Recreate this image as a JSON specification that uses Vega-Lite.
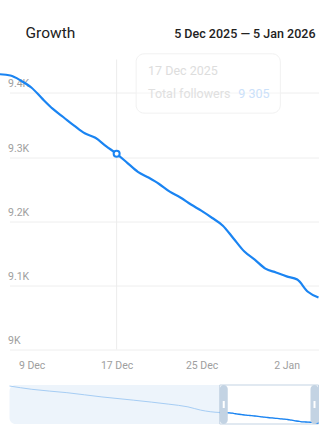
{
  "$schema": "https://vega.github.io/schema/vega-lite/v6.json",
  "background": "white",
  "padding": {"left": -5.5, "top": 25.5, "right": 0, "bottom": 0},
  "config": {"view": {"stroke": null}, "font": "Roboto", "axis": {"labelFont": "Roboto"}},
  "title": {"text": "Growth", "anchor": "start", "frame": "group", "font": "Roboto", "fontSize": 15.5, "fontWeight": 400, "color": "#212121", "dx": 16, "offset": -24.7, "baseline": "alphabetic"},
  "datasets": {
    "followers": [
      {"date": "2025-09-30T00:00:00", "value": 10300},
      {"date": "2025-10-07T00:00:00", "value": 10192},
      {"date": "2025-10-18T00:00:00", "value": 10082},
      {"date": "2025-10-29T00:00:00", "value": 9942},
      {"date": "2025-11-08T00:00:00", "value": 9835},
      {"date": "2025-11-19T00:00:00", "value": 9705},
      {"date": "2025-11-25T00:00:00", "value": 9617},
      {"date": "2025-11-29T00:00:00", "value": 9510},
      {"date": "2025-12-05T00:00:00", "value": 9432},
      {"date": "2025-12-06T00:00:00", "value": 9429},
      {"date": "2025-12-07T00:00:00", "value": 9427},
      {"date": "2025-12-08T00:00:00", "value": 9419},
      {"date": "2025-12-09T00:00:00", "value": 9408},
      {"date": "2025-12-10T00:00:00", "value": 9391},
      {"date": "2025-12-11T00:00:00", "value": 9375},
      {"date": "2025-12-12T00:00:00", "value": 9362},
      {"date": "2025-12-13T00:00:00", "value": 9349},
      {"date": "2025-12-14T00:00:00", "value": 9337},
      {"date": "2025-12-15T00:00:00", "value": 9330},
      {"date": "2025-12-16T00:00:00", "value": 9317},
      {"date": "2025-12-17T00:00:00", "value": 9305},
      {"date": "2025-12-18T00:00:00", "value": 9291},
      {"date": "2025-12-19T00:00:00", "value": 9277},
      {"date": "2025-12-20T00:00:00", "value": 9268},
      {"date": "2025-12-21T00:00:00", "value": 9258},
      {"date": "2025-12-22T00:00:00", "value": 9246},
      {"date": "2025-12-23T00:00:00", "value": 9237},
      {"date": "2025-12-24T00:00:00", "value": 9226},
      {"date": "2025-12-25T00:00:00", "value": 9216},
      {"date": "2025-12-26T00:00:00", "value": 9205},
      {"date": "2025-12-27T00:00:00", "value": 9193},
      {"date": "2025-12-28T00:00:00", "value": 9173},
      {"date": "2025-12-29T00:00:00", "value": 9153},
      {"date": "2025-12-30T00:00:00", "value": 9140},
      {"date": "2025-12-31T00:00:00", "value": 9126},
      {"date": "2026-01-01T00:00:00", "value": 9120},
      {"date": "2026-01-02T00:00:00", "value": 9114},
      {"date": "2026-01-03T00:00:00", "value": 9109},
      {"date": "2026-01-04T00:00:00", "value": 9090},
      {"date": "2026-01-05T00:00:00", "value": 9081}
    ],
    "tip": [
      {"date": "2025-12-17T00:00:00", "value": 9305, "day": "17 Dec 2025", "metric": "Total followers", "shown": "9 305"}
    ]
  },
  "spacing": 13.5,
  "vconcat": [
    {
      "width": 309,
      "height": 290,
      "title": {"text": "5 Dec 2025 — 5 Jan 2026", "anchor": "end", "frame": "group", "font": "Roboto", "fontSize": 12.5, "fontWeight": 500, "color": "#222222", "dx": -3, "offset": 2.5, "baseline": "alphabetic"},
      "encoding": {
        "x": {
          "field": "date", "type": "temporal",
          "scale": {"domain": [{"year": 2025, "month": "Dec", "date": 6, "hours": 22}, {"year": 2026, "month": "Jan", "date": 5}]},
          "axis": {
            "values": [{"year": 2025, "month": "Dec", "date": 9}, {"year": 2025, "month": "Dec", "date": 17}, {"year": 2025, "month": "Dec", "date": 25}, {"year": 2026, "month": "Jan", "date": 2}],
            "format": "%-d %b", "labelColor": "#9e9e9e", "labelFontSize": 10.5, "labelPadding": 10.5,
            "domain": false, "ticks": false, "grid": false, "title": null, "labelFlush": false
          }
        }
      },
      "layer": [
        {
          "data": {"name": "tip"},
          "mark": {"type": "rule", "color": "#ececec", "strokeWidth": 1},
          "encoding": {}
        },
        {
          "data": {"name": "followers"},
          "transform": [{"filter": {"field": "date", "gte": {"year": 2025, "month": "Dec", "date": 6}}}],
          "mark": {"type": "line", "color": "#1a84f2", "strokeWidth": 2.2, "interpolate": "monotone", "clip": false},
          "encoding": {
            "y": {
              "field": "value", "type": "quantitative",
              "scale": {"domain": [9000, 9452], "nice": false, "zero": false},
              "axis": {
                "values": [9000, 9100, 9200, 9300, 9400],
                "labelExpr": "datum.value / 1000 + 'K'",
                "grid": true, "gridColor": "#eeeeee", "gridWidth": 1,
                "domain": false, "ticks": false, "tickSize": 0,
                "labelAlign": "left", "labelBaseline": "alphabetic", "labelPadding": 2, "labelOffset": -6,
                "labelColor": "#9e9e9e", "labelFontSize": 10.5, "title": null
              }
            }
          }
        },
        {
          "data": {"name": "tip"},
          "mark": {"type": "rect", "fill": "white", "fillOpacity": 0.4, "stroke": "#f1f1f1", "strokeWidth": 1, "cornerRadius": 8, "xOffset": 19.5, "x2Offset": 163.7, "yOffset": -100, "y2Offset": -40.7, "clip": false},
          "encoding": {
            "x2": {"field": "date"},
            "y": {"field": "value", "type": "quantitative"},
            "y2": {"field": "value"}
          }
        },
        {
          "data": {"name": "tip"},
          "mark": {"type": "text", "align": "left", "baseline": "alphabetic", "dx": 31.4, "dy": -79, "font": "Roboto", "fontSize": 12.5, "color": "#dddddd"},
          "encoding": {"y": {"field": "value", "type": "quantitative"}, "text": {"field": "day"}}
        },
        {
          "data": {"name": "tip"},
          "mark": {"type": "text", "align": "left", "baseline": "alphabetic", "dx": 31.4, "dy": -55.5, "font": "Roboto", "fontSize": 12.5, "color": "#e0e0e0"},
          "encoding": {"y": {"field": "value", "type": "quantitative"}, "text": {"field": "metric"}}
        },
        {
          "data": {"name": "tip"},
          "mark": {"type": "text", "align": "left", "baseline": "alphabetic", "dx": 121.7, "dy": -55.5, "font": "Roboto", "fontSize": 12.5, "color": "#cbe1fa"},
          "encoding": {"y": {"field": "value", "type": "quantitative"}, "text": {"field": "shown"}}
        },
        {
          "data": {"name": "tip"},
          "mark": {"type": "point", "filled": false, "fill": "white", "stroke": "#1a84f2", "strokeWidth": 2, "size": 36, "opacity": 1},
          "encoding": {"y": {"field": "value", "type": "quantitative"}}
        }
      ]
    },
    {
      "width": 309,
      "height": 39,
      "data": {"name": "followers"},
      "layer": [
        {
          "mark": {"type": "rect", "fill": "#edf4fb", "cornerRadius": 6},
          "encoding": {
            "x": {"aggregate": "min", "field": "date", "type": "temporal",
                  "scale": {"domain": [{"year": 2025, "month": "Sep", "date": 30}, {"year": 2026, "month": "Jan", "date": 5}]}, "axis": null},
            "x2": {"aggregate": "max", "field": "date"}
          }
        },
        {
          "transform": [{"filter": {"field": "date", "gte": {"year": 2025, "month": "Dec", "date": 5}}}],
          "mark": {"type": "rect", "fill": "white", "stroke": "#c3d3e3", "strokeWidth": 1},
          "encoding": {
            "x": {"aggregate": "min", "field": "date", "type": "temporal"},
            "x2": {"aggregate": "max", "field": "date"}
          }
        },
        {
          "mark": {"type": "line", "color": "#a6cdf4", "strokeWidth": 1, "interpolate": "monotone"},
          "encoding": {
            "x": {"field": "date", "type": "temporal"},
            "y": {"field": "value", "type": "quantitative", "scale": {"domain": [9055, 10333], "nice": false, "zero": false}, "axis": null}
          }
        },
        {
          "transform": [{"filter": {"field": "date", "gte": {"year": 2025, "month": "Dec", "date": 5}}}],
          "mark": {"type": "line", "color": "#1a84f2", "strokeWidth": 1.3, "interpolate": "monotone"},
          "encoding": {
            "x": {"field": "date", "type": "temporal"},
            "y": {"field": "value", "type": "quantitative"}
          }
        },
        {
          "transform": [{"filter": {"field": "date", "gte": {"year": 2025, "month": "Dec", "date": 5}}}],
          "mark": {"type": "tick", "color": "#c3d3e3", "thickness": 8, "size": 39, "xOffset": 4, "cornerRadius": 4, "opacity": 1},
          "encoding": {"x": {"aggregate": "min", "field": "date", "type": "temporal"}}
        },
        {
          "transform": [{"filter": {"field": "date", "gte": {"year": 2025, "month": "Dec", "date": 5}}}],
          "mark": {"type": "tick", "color": "#c3d3e3", "thickness": 8, "size": 39, "xOffset": -4, "cornerRadius": 4, "opacity": 1},
          "encoding": {"x": {"aggregate": "max", "field": "date", "type": "temporal"}}
        },
        {
          "transform": [{"filter": {"field": "date", "gte": {"year": 2025, "month": "Dec", "date": 5}}}],
          "mark": {"type": "tick", "color": "white", "thickness": 2, "size": 7, "xOffset": 4, "opacity": 1},
          "encoding": {"x": {"aggregate": "min", "field": "date", "type": "temporal"}}
        },
        {
          "transform": [{"filter": {"field": "date", "gte": {"year": 2025, "month": "Dec", "date": 5}}}],
          "mark": {"type": "tick", "color": "white", "thickness": 2, "size": 7, "xOffset": -4, "opacity": 1},
          "encoding": {"x": {"aggregate": "max", "field": "date", "type": "temporal"}}
        }
      ]
    }
  ]
}
